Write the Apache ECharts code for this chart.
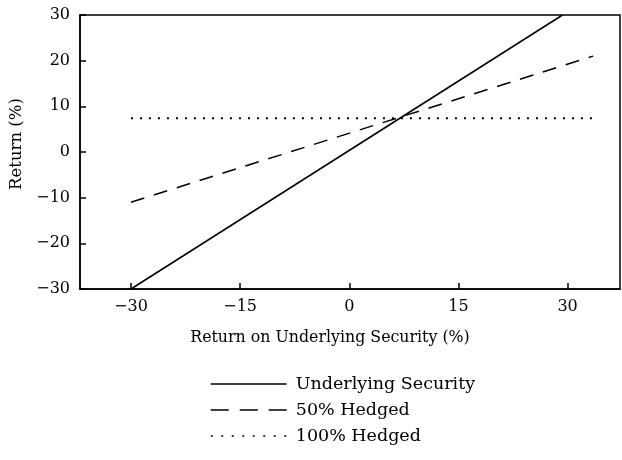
<!DOCTYPE html>
<html><head><meta charset="utf-8">
<script src="https://cdn.jsdelivr.net/npm/echarts@6/dist/echarts.min.js"></script>
<style>html,body{margin:0;padding:0;background:#fff}#c{width:622px;height:460px}</style>
</head><body><div id="c"></div>
<script>
const seriesNames = ['Underlying Security', '50% Hedged', '100% Hedged'];
const underlying = [[-30, -30], [29.3, 30]];
const hedged50 = [[-30, -11], [33.5, 21]];
const hedged100 = [[-30, 7.4], [33.5, 7.4]];
const xTicks = [-30, -15, 0, 15, 30];
const yTicks = [-30, -20, -10, 0, 10, 20, 30];
const xTitle = 'Return on Underlying Security (%)';
const yTitle = 'Return (%)';

const font = 'DejaVu Serif';
const fmt = v => (v < 0 ? '\u2212' + Math.abs(v) : String(v));
const chart = echarts.init(document.getElementById('c'));
chart.setOption({
  animation: false,
  backgroundColor: '#fff',
  grid: { left: 80, right: 2, top: 15, bottom: 171, show: true, borderColor: '#000', borderWidth: 1.5 },
  xAxis: {
    type: 'value', min: -37, max: 37.2,
    axisLine: { onZero: false, lineStyle: { color: '#000', width: 1.5 } },
    axisTick: { inside: true, length: 6, lineStyle: { color: '#000', width: 1.5 },
      customValues: xTicks },
    axisLabel: { customValues: xTicks, formatter: fmt, color: '#000', fontFamily: font, fontSize: 16, margin: 10 },
    splitLine: { show: false },
    name: xTitle, nameLocation: 'middle', nameGap: 41,
    nameTextStyle: { color: '#000', fontFamily: font, fontSize: 15.8, padding: [0, 40, 0, 0] }
  },
  yAxis: {
    type: 'value', min: -30, max: 30,
    axisLine: { show: true, onZero: false, lineStyle: { color: '#000', width: 1.5 } },
    axisTick: { show: true, inside: true, length: 6, lineStyle: { color: '#000', width: 1.5 },
      customValues: yTicks },
    axisLabel: { customValues: yTicks, formatter: fmt, color: '#000', fontFamily: font, fontSize: 16, margin: 10 },
    splitLine: { show: false },
    name: yTitle, nameLocation: 'middle', nameGap: 45, nameRotate: 90,
    nameTextStyle: { color: '#000', fontFamily: font, fontSize: 16.5, padding: [0, 0, 0, 16] }
  },
  legend: {
    orient: 'vertical', left: 205, top: 370, itemGap: 8, itemWidth: 76, itemHeight: 17,
    itemStyle: { opacity: 0 },
    data: [
      { name: seriesNames[0], lineStyle: { type: 'solid', width: 1.5 } },
      { name: seriesNames[1], lineStyle: { type: [18, 11], width: 1.5 } },
      { name: seriesNames[2], lineStyle: { type: [2, 8.5], width: 1.5 } }
    ],
    textStyle: { color: '#000', fontFamily: font, fontSize: 17.5, padding: [0, 0, 0, 4] }
  },
  series: [
    { name: seriesNames[0], type: 'line', data: underlying, symbol: 'none',
      itemStyle: { color: '#000' },
      lineStyle: { color: '#000', width: 1.5, type: 'solid' } },
    { name: seriesNames[1], type: 'line', data: hedged50, symbol: 'none',
      itemStyle: { color: '#000' },
      lineStyle: { color: '#000', width: 1.5, type: [14, 10] } },
    { name: seriesNames[2], type: 'line', data: hedged100, symbol: 'none',
      itemStyle: { color: '#000' },
      lineStyle: { color: '#000', width: 2, type: [2, 7] } }
  ]
});
</script></body></html>
